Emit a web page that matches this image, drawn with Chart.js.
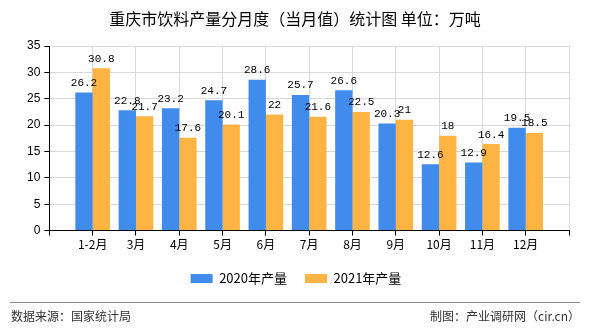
<!DOCTYPE html>
<html>
<head>
<meta charset="utf-8">
<title>重庆市饮料产量分月度（当月值）统计图</title>
<script src="https://cdn.jsdelivr.net/npm/chart.js"></script>
<style>
  html, body { margin: 0; padding: 0; background: #fff; }
  #wrap { position: relative; width: 590px; height: 330px; }
</style>
</head>
<body>
<div id="wrap"><canvas id="chart" width="590" height="330"></canvas></div>
<script>
// chart values
const categories = ['1-2月', '3月', '4月', '5月', '6月', '7月', '8月', '9月', '10月', '11月', '12月'];
const output2020 = [26.2, 22.8, 23.2, 24.7, 28.6, 25.7, 26.6, 20.3, 12.6, 12.9, 19.5];
const output2021 = [30.8, 21.7, 17.6, 20.1, 22, 21.6, 22.5, 21, 18, 16.4, 18.5];
const yTicks = [0, 5, 10, 15, 20, 25, 30, 35];

const titleText = '重庆市饮料产量分月度（当月值）统计图 单位：万吨';
const sourceText = '数据来源：国家统计局';
const makerText = '制图：产业调研网（cir.cn）';

const CJK = '"Noto Sans CJK SC", "Noto Sans", sans-serif';

// blank slot at each end so the groups sit on the grid lines
const labels = [''].concat(categories, ['']);
const pad = arr => [null].concat(arr, [null]);

// values above each bar
const valueLabels = {
  id: 'valueLabels',
  afterDatasetsDraw(chart) {
    const ctx = chart.ctx;
    ctx.save();
    ctx.font = '11px "Liberation Mono", monospace';
    ctx.fillStyle = '#000';
    ctx.textAlign = 'center';
    ctx.textBaseline = 'bottom';
    chart.data.datasets.forEach((ds, i) => {
      chart.getDatasetMeta(i).data.forEach((bar, j) => {
        const v = ds.data[j];
        if (v == null) return;
        ctx.fillText(String(v), bar.x, bar.y - 4);
      });
    });
    ctx.restore();
  }
};

// title and footer
const frame = {
  id: 'frame',
  afterDraw(chart) {
    const ctx = chart.ctx;
    ctx.save();
    ctx.fillStyle = '#000';
    ctx.font = '16px ' + CJK;
    ctx.textAlign = 'center';
    ctx.textBaseline = 'middle';
    ctx.fillText(titleText, 295, 19);

    ctx.strokeStyle = '#8c8c8c';
    ctx.lineWidth = 1;
    ctx.beginPath();
    ctx.moveTo(10, 302.5);
    ctx.lineTo(580, 302.5);
    ctx.stroke();

    ctx.fillStyle = '#333';
    ctx.font = '12px ' + CJK;
    ctx.textAlign = 'left';
    ctx.fillText(sourceText, 11, 316);
    ctx.textAlign = 'right';
    ctx.fillText(makerText, 580, 316);
    ctx.restore();
  }
};

new Chart(document.getElementById('chart'), {
  type: 'bar',
  data: {
    labels: labels,
    datasets: [
      { label: '2020年产量', data: pad(output2020), backgroundColor: '#418bed' },
      { label: '2021年产量', data: pad(output2021), backgroundColor: '#fdb443' }
    ]
  },
  options: {
    responsive: false,
    animation: false,
    devicePixelRatio: 1,
    categoryPercentage: 0.8,
    barPercentage: 1,
    layout: { padding: { top: 46, left: 23, right: 21, bottom: 35 } },
    plugins: {
      title: { display: false },
      tooltip: { enabled: false },
      legend: {
        position: 'bottom',
        labels: {
          boxWidth: 22,
          boxHeight: 9,
          padding: 18,
          color: '#000',
          font: { family: CJK, size: 13 }
        }
      }
    },
    scales: {
      x: {
        offset: false,
        grid: { offset: false, color: '#d9d9d9', tickLength: 5, tickColor: '#000' },
        border: { color: '#000' },
        ticks: { color: '#000', maxRotation: 0, autoSkip: false, padding: 2, font: { family: CJK, size: 12 } }
      },
      y: {
        min: 0,
        max: 35,
        afterBuildTicks(axis) { axis.ticks = yTicks.map(v => ({ value: v })); },
        grid: { color: '#d9d9d9', tickLength: 5, tickColor: '#000' },
        border: { color: '#000' },
        ticks: { color: '#000', padding: 4, font: { family: '"Liberation Sans", sans-serif', size: 12 } }
      }
    }
  },
  plugins: [valueLabels, frame]
});
</script>
</body>
</html>
